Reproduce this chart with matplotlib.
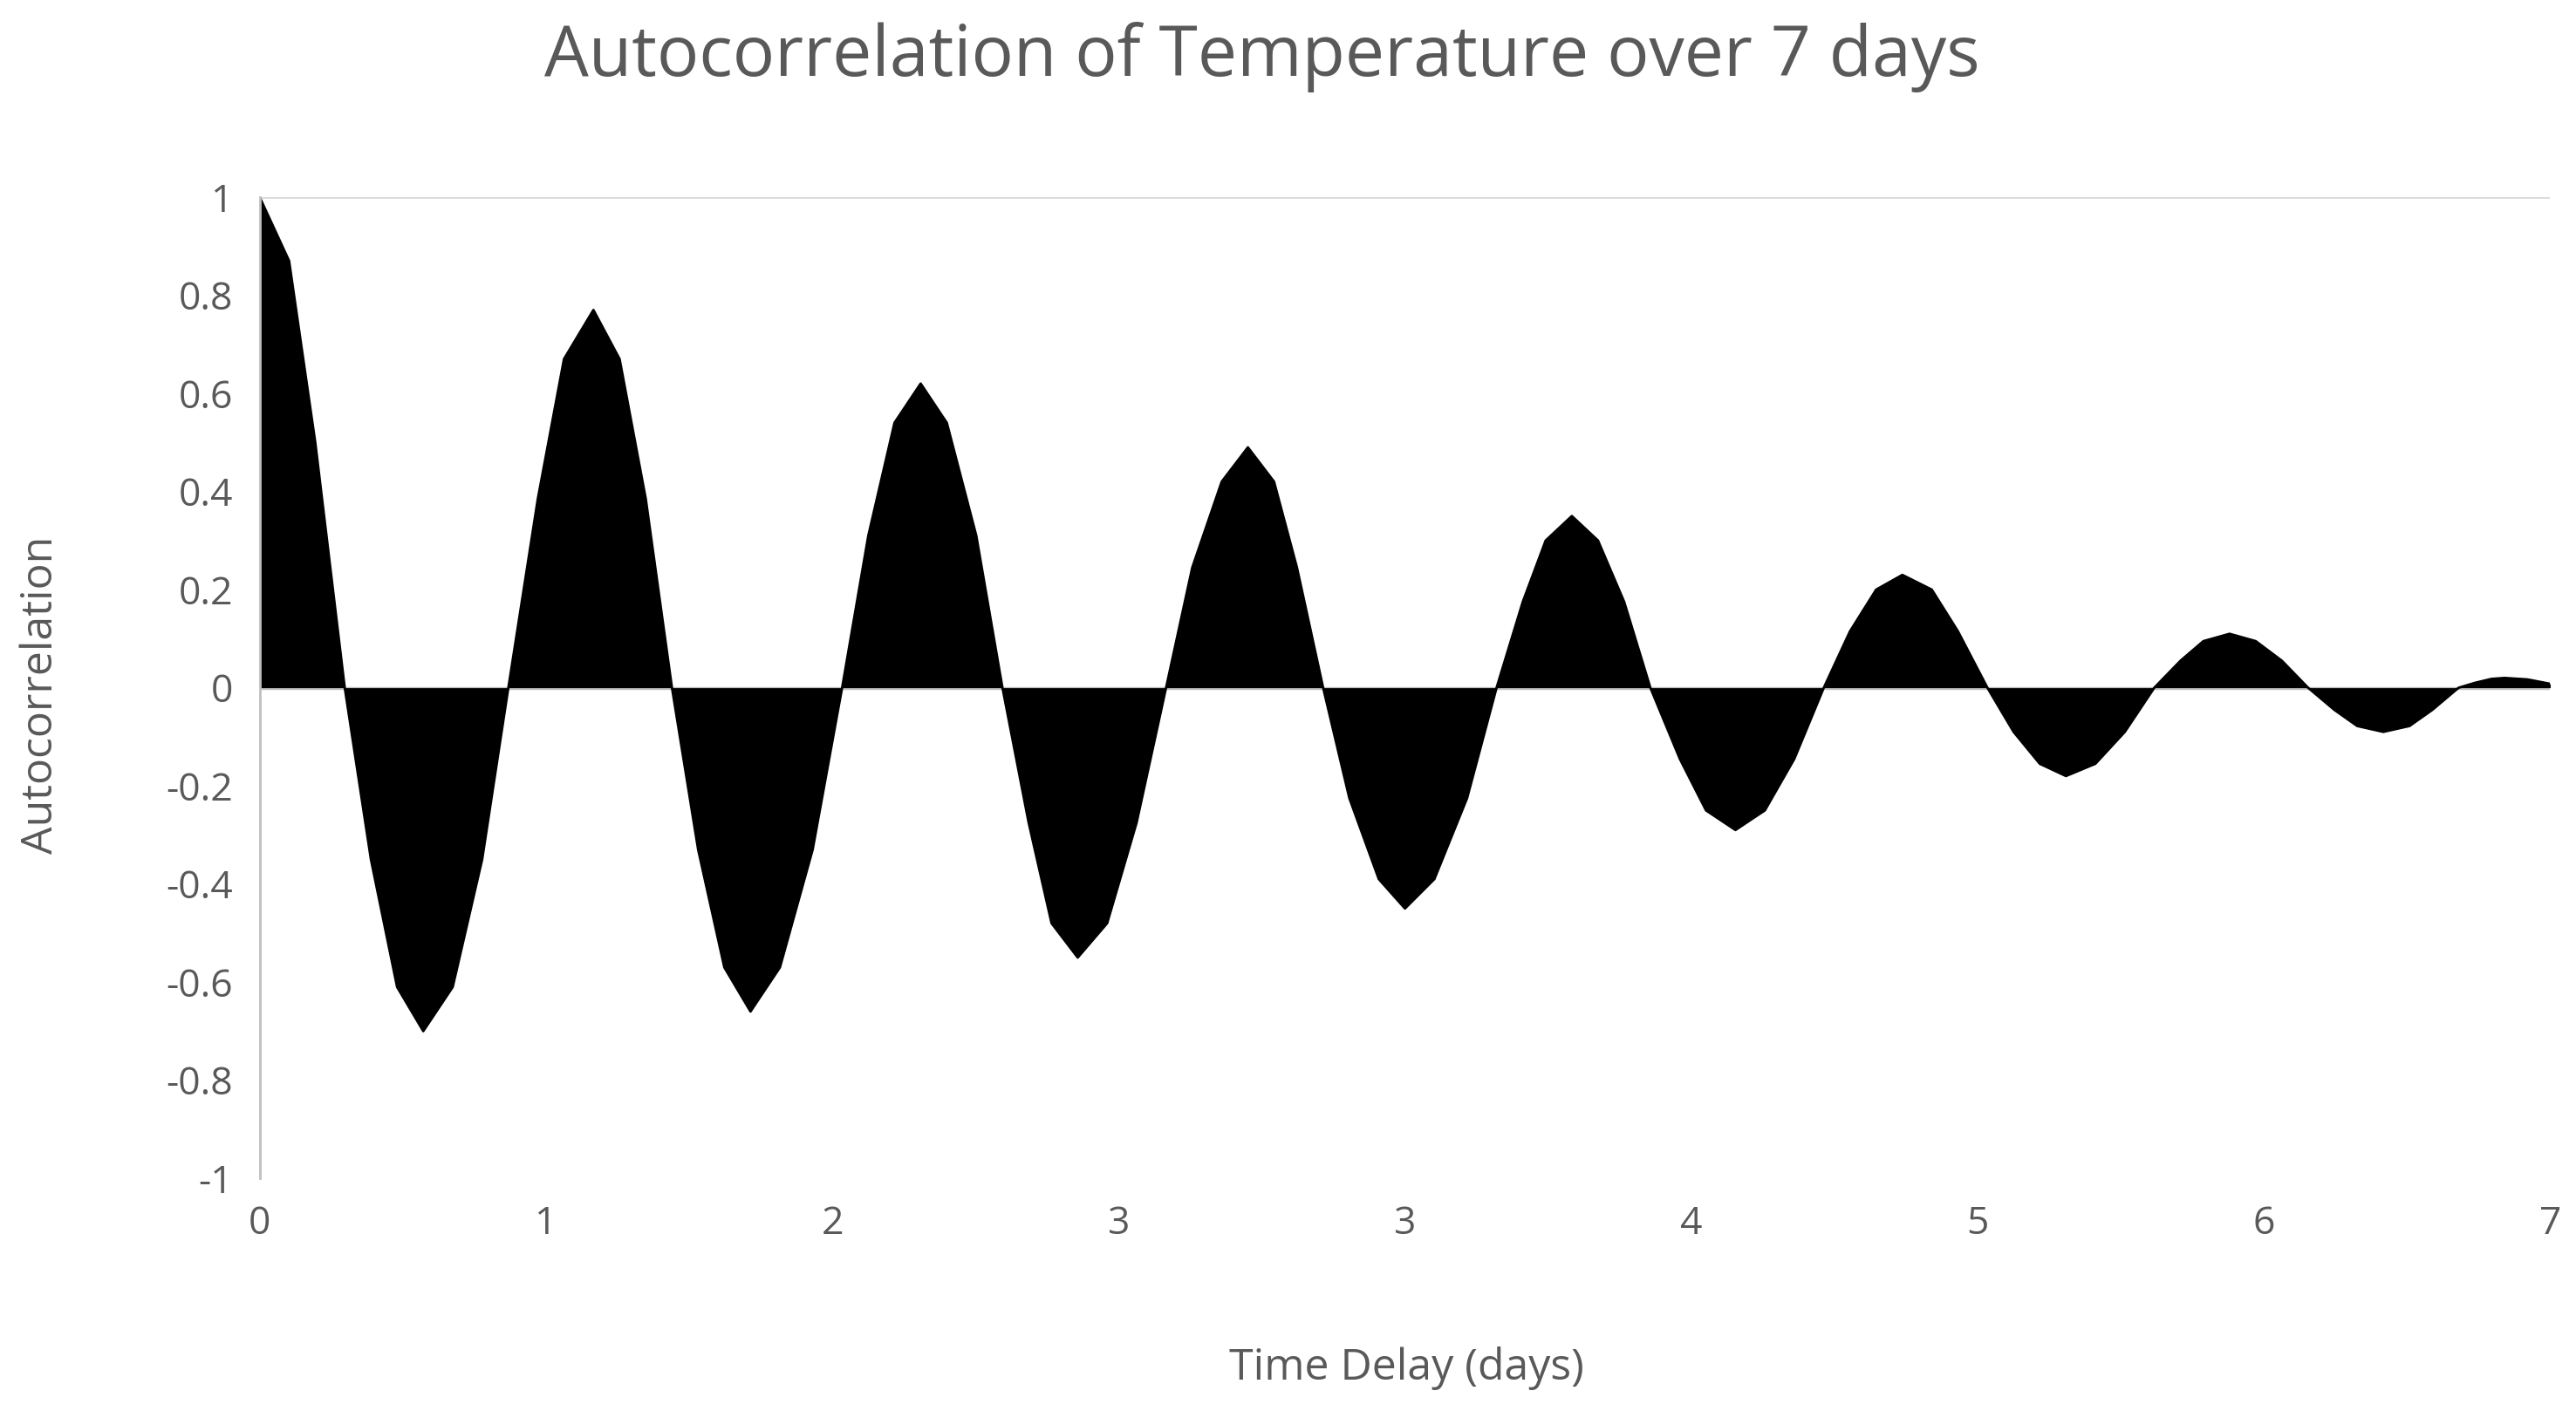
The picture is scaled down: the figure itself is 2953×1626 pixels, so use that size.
import numpy as np
import matplotlib.pyplot as plt

# values (days, autocorrelation)
days = [0.0, 0.09, 0.17, 0.26,
        0.34, 0.42, 0.50, 0.59, 0.68, 0.76,
        0.85, 0.93, 1.02, 1.10, 1.18, 1.26,
        1.34, 1.42, 1.50, 1.59, 1.69, 1.78,
        1.86, 1.94, 2.02, 2.10, 2.19, 2.27,
        2.35, 2.42, 2.50, 2.59, 2.68, 2.77,
        2.85, 2.94, 3.02, 3.10, 3.17, 3.25,
        3.33, 3.42, 3.50, 3.59, 3.69, 3.78,
        3.86, 3.93, 4.01, 4.09, 4.17, 4.25,
        4.34, 4.42, 4.51, 4.60, 4.69, 4.78,
        4.86, 4.94, 5.02, 5.11, 5.19, 5.28,
        5.36, 5.44, 5.52, 5.61, 5.70, 5.79,
        5.87, 5.94, 6.02, 6.10, 6.18, 6.26,
        6.34, 6.41, 6.49, 6.57, 6.64, 6.72,
        6.77, 6.82, 6.86, 6.93, 7.0]
acf = [1.0, 0.87, 0.5, 0.0,
       -0.35, -0.61, -0.70, -0.61, -0.35, 0.0,
       0.385, 0.67, 0.77, 0.67, 0.385, 0.0,
       -0.33, -0.57, -0.66, -0.57, -0.33, 0.0,
       0.31, 0.54, 0.62, 0.54, 0.31, 0.0,
       -0.275, -0.48, -0.55, -0.48, -0.275, 0.0,
       0.245, 0.42, 0.49, 0.42, 0.245, 0.0,
       -0.225, -0.39, -0.45, -0.39, -0.225, 0.0,
       0.175, 0.30, 0.35, 0.30, 0.175, 0.0,
       -0.145, -0.25, -0.29, -0.25, -0.145, 0.0,
       0.115, 0.20, 0.23, 0.20, 0.115, 0.0,
       -0.09, -0.155, -0.18, -0.155, -0.09, 0.0,
       0.055, 0.095, 0.11, 0.095, 0.055, 0.0,
       -0.045, -0.078, -0.09, -0.078, -0.045, 0.0,
       0.01, 0.018, 0.02, 0.017, 0.008]

xtick_pos = [i * 7 / 8 for i in range(9)]
xtick_labels = ['0', '1', '2', '3', '3', '4', '5', '6', '7']
ytick_pos = [1, 0.8, 0.6, 0.4, 0.2, 0, -0.2, -0.4, -0.6, -0.8, -1]
ytick_labels = ['1', '0.8', '0.6', '0.4', '0.2', '0', '-0.2', '-0.4', '-0.6', '-0.8', '-1']

gray = '#595959'
plt.rcParams['font.family'] = ['Open Sans', 'DejaVu Sans']

fig = plt.figure(figsize=(29.53, 16.26), dpi=100)
ax = fig.add_axes([0.1008, 0.169, 0.8892, 0.692])

ax.axhline(1, color='#d9d9d9', lw=2, zorder=0)
ax.axhline(0, color='#bfbfbf', lw=2.5, zorder=0)
ax.fill_between(days, acf, 0, color='black', lw=0)
ax.plot(days, acf, color='black', lw=2)

ax.set_xlim(0, 7)
ax.set_ylim(-1, 1)
ax.set_xticks(xtick_pos, xtick_labels)
ax.set_yticks(ytick_pos, ytick_labels)
ax.tick_params(length=0, labelsize=32, colors=gray, pad=22)
for s in ['top', 'right', 'bottom']:
    ax.spines[s].set_visible(False)
ax.spines['left'].set_color('#bfbfbf')
ax.spines['left'].set_linewidth(2)

fig.text(0.49, 0.96, 'Autocorrelation of Temperature over 7 days', ha='center', va='center',
         fontsize=58, color=gray)
fig.text(0.546, 0.035, 'Time Delay (days)', ha='center', va='center', fontsize=36, color=gray)
fig.text(0.016, 0.51, 'Autocorrelation', ha='center', va='center', rotation=90,
         fontsize=36, color=gray)

plt.savefig('out.png', dpi=100)
